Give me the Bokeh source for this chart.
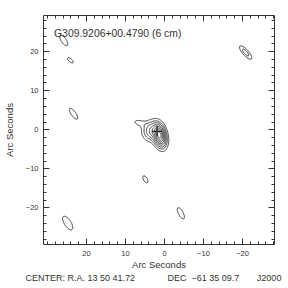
import numpy as np
from bokeh.plotting import figure
from bokeh.models import Range1d, LinearAxis, FixedTicker, Label, Title, CustomJSTickFormatter
from bokeh.embed import file_html
from bokeh.resources import INLINE

# ---- data (arc seconds offsets; x = RA offset, increasing to the left) ----
title_text = "G309.9206+00.4790 (6 cm)"
NB = "\u00a0"
center_text = ("CENTER:" + NB + "R.A." + NB + "13" + NB + "50" + NB + "41.72" + NB * 13 +
               "DEC" + NB * 2 + "\u221261" + NB + "35" + NB + "09.7" + NB * 7 + "J2000")

major_ticks = [-20, -10, 0, 10, 20]
minor_ticks = [-28, -26, -24, -22, -20, -18, -16, -14, -12, -10, -8, -6, -4, -2, 0,
               2, 4, 6, 8, 10, 12, 14, 16, 18, 20, 22, 24, 26, 28, 30]

# main source components
src_x = [1.2, 3.5, 6.5]
src_y = [-1.5, -0.3, 1.8]
src_amp = [0.75, 0.3, 0.1]
src_smaj = [1.9, 1.6, 1.2]
src_smin = [1.0, 1.4, 0.6]
src_pa = [78, 90, 15]

# isolated weak blobs
blob_x = [25.8, 24.1, 23.3, -20.8, 4.9, -4.2, 24.8]
blob_y = [22.9, 17.8, 4.1, 19.8, -12.7, -21.4, -23.9]
blob_amp = [0.1, 0.1, 0.1, 0.18, 0.1, 0.1, 0.1]
blob_smaj = [1.83, 1.07, 1.95, 1.6, 1.18, 1.89, 2.37]
blob_smin = [0.77, 0.47, 0.71, 0.55, 0.59, 0.71, 1.0]
blob_pa = [56, 40, 55, 48, 60, 62, 57]

levels = [0.07, 0.14, 0.22, 0.32, 0.42, 0.53, 0.64, 0.75]

peak_x = [1.9]
peak_y = [-0.4]

# ---- build image ----
xs = np.linspace(-29.0, 32.0, 611)
ys = np.linspace(-30.0, 30.0, 601)
X, Y = np.meshgrid(xs, ys)
Z = np.zeros_like(X)
comps = list(zip(src_x, src_y, src_amp, src_smaj, src_smin, src_pa)) + \
        list(zip(blob_x, blob_y, blob_amp, blob_smaj, blob_smin, blob_pa))
for cx, cy, a, sj, sn, pa in comps:
    t = np.deg2rad(pa)
    u = (X - cx) * np.cos(t) + (Y - cy) * np.sin(t)
    v = -(X - cx) * np.sin(t) + (Y - cy) * np.cos(t)
    Z += a * np.exp(-0.5 * ((u / sj) ** 2 + (v / sn) ** 2))

ink = "#333333"
FONT = "Liberation Sans"

p = figure(width=288, height=288, frame_width=231, frame_height=229,
           x_range=Range1d(31.0, -28.2), y_range=Range1d(-29.4, 29.3),
           output_backend="svg", toolbar_location=None,
           min_border_left=43, min_border_right=14, min_border_top=15, min_border_bottom=44,
           background_fill_color="white", border_fill_color="white")
p.grid.visible = False
p.outline_line_color = None

p.contour(xs, ys, Z, levels, line_color="#222222", line_width=0.9)
p.cross(peak_x, peak_y, size=10, line_color="#222222", line_width=1.3)

fmt = CustomJSTickFormatter(code="return tick < 0 ? '\\u2212' + Math.abs(tick) : String(tick);")

def style(ax, labels=True):
    ax.ticker = FixedTicker(ticks=major_ticks, minor_ticks=minor_ticks)
    ax.axis_line_color = ink
    ax.major_tick_line_color = ink
    ax.minor_tick_line_color = ink
    ax.major_tick_in = 6
    ax.major_tick_out = 0
    ax.minor_tick_in = 3
    ax.minor_tick_out = 0
    if labels:
        ax.formatter = fmt
        ax.major_label_text_font = FONT
        ax.major_label_text_font_size = "7.5px"
        ax.major_label_text_color = ink
        ax.axis_label_text_font = FONT
        ax.axis_label_text_font_size = "9.5px"
        ax.axis_label_text_font_style = "normal"
        ax.axis_label_text_color = ink
        ax.axis_label_text_line_height = 0.8
    else:
        ax.major_label_text_color = None
        ax.major_label_text_font_size = "6px"
        ax.major_label_standoff = 0

xa = p.xaxis[0]
style(xa)
xa.major_label_standoff = 6
xa.axis_label = "Arc Seconds"
xa.axis_label_standoff = 0
ya = p.yaxis[0]
style(ya)
ya.major_label_standoff = 5
ya.axis_label = "Arc Seconds"
ya.axis_label_standoff = 8

top = LinearAxis()
style(top, labels=False)
p.add_layout(top, "above")
right = LinearAxis()
style(right, labels=False)
p.add_layout(right, "right")

p.add_layout(Label(x=28.3, y=24.7, text=title_text, text_font=FONT,
                   text_font_size="10.4px", text_color=ink, text_baseline="middle"))
p.add_layout(Title(text=center_text, align="left", offset=-18, text_font=FONT,
                   text_font_size="9px", text_font_style="normal", text_color=ink,
                   text_line_height=0.6, vertical_align="top", standoff=0), "below")

open("out.html", "w").write(file_html(p, INLINE))
